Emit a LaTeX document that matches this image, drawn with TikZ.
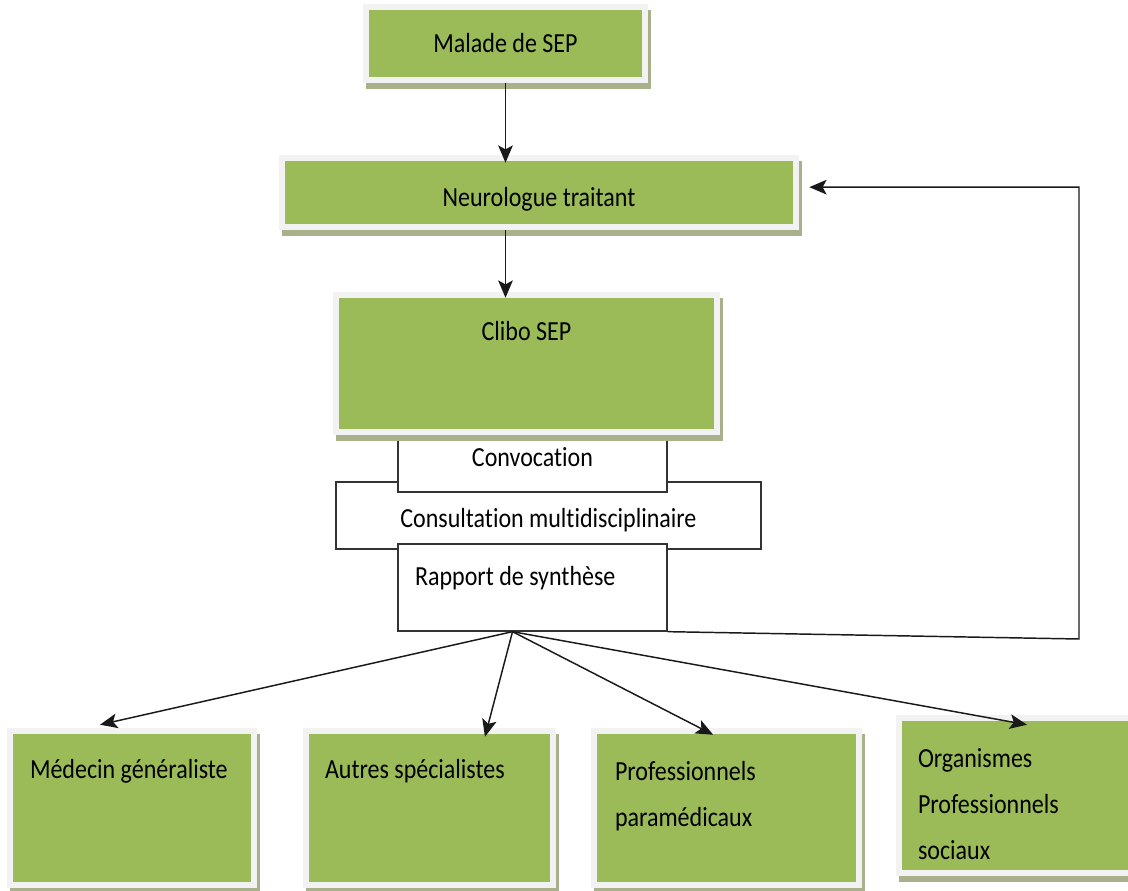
\documentclass[tikz,border=0pt]{standalone}
\usepackage{fontspec}
\setmainfont{Carlito}[FakeStretch=0.87, Ligatures=NoCommon]
\usetikzlibrary{arrows.meta,shadows}
\definecolor{boxgreen}{RGB}{155,187,89}
\definecolor{boxrim}{RGB}{242,242,242}
\definecolor{boxshade}{RGB}{168,176,140}
\tikzstyle{greenbox} = [rectangle, fill=boxrim, inner sep=0pt,
drop shadow={shadow xshift=2.5pt, shadow yshift=-4.5pt, fill=boxshade, opacity=1},
path picture={\fill[boxgreen] ([shift={(4.5pt,4.5pt)}]path picture bounding box.south west) rectangle ([shift={(-4.5pt,-4.5pt)}]path picture bounding box.north east);}]
\tikzstyle{stepbox} = [rectangle, draw=black!80, line width=1pt, fill=white, inner sep=0pt]
\tikzstyle{arrow} = [line width=1.1pt, draw=black!90, ->, >={Stealth[length=13pt,width=11pt,inset=3pt]}]

\begin{document}
\begin{tikzpicture}[x=0.75pt, y=-0.75pt, font=\fontsize{20.7pt}{34.5pt}\selectfont]
	\useasboundingbox (0,0) rectangle (1128,891);

	\node (malade) [greenbox, minimum width=213.75pt, minimum height=59.25pt, text height=36.75pt, text depth=22.5pt] at (505.5,43.5) {Malade de SEP};
	\node (neuro) [greenbox, minimum width=390pt, minimum height=56.25pt, text height=39pt, text depth=17.25pt] at (539,192.5) {Neurologue traitant};

	% etapes du Clibo
	\node (consult) [stepbox, minimum width=318.75pt, minimum height=50.25pt, text height=33.75pt, text depth=16.5pt] at (548.5,515.5) {Consultation multidisciplinaire};
	\node (convoc) [stepbox, minimum width=201.75pt, minimum height=42pt, text height=22.5pt, text depth=19.5pt] at (532.5,464) {Convocation};
	\node (rapport) [stepbox, minimum width=201.75pt, minimum height=65.25pt, inner xsep=12.75pt, text width=176.25pt, align=flush left, text height=30.75pt, text depth=34.5pt] at (532.5,587.5) {Rapport~de~synthèse};
	\node (clibo) [greenbox, minimum width=290.25pt, minimum height=107.25pt, text height=36pt, text depth=71.25pt] at (526.5,363.5) {Clibo SEP};

	% destinataires
	\node (med) [greenbox, minimum width=187.5pt, minimum height=120pt, inner xsep=17.25pt, text width=153pt, align=flush left, text height=37.5pt, text depth=82.5pt] at (132,808) {Médecin~généraliste};
	\node (autres) [greenbox, minimum width=189.75pt, minimum height=120pt, inner xsep=16.5pt, text width=156.75pt, align=flush left, text height=37.5pt, text depth=82.5pt] at (429.5,808) {Autres~spécialistes};
	\node (prof) [greenbox, minimum width=203.25pt, minimum height=120pt, inner xsep=18pt, text width=167.25pt, align=flush left, text height=39pt, text depth=81pt] at (726.5,808) {Professionnels\\paramédicaux};
	\node (org) [greenbox, minimum width=183.75pt, minimum height=120.75pt, inner xsep=16.5pt, text width=150.75pt, align=flush left, text height=39pt, text depth=81.75pt] at (1018.5,795.5) {Organismes\\Professionnels\\sociaux};

	\draw [arrow, shorten >=-6pt] (malade.south) -- (malade.south |- neuro.north);
	\draw [arrow, shorten >=-4.5pt] (neuro.south -| malade.south) -- (clibo.north -| malade.south);

	\coordinate (fork) at ([xshift=-15pt]rapport.south);
	\draw [arrow] (fork) -- ([shift={(-24pt,2.25pt)}]med.north);
	\draw [arrow] (fork) -- ([shift={(41.6pt,-6.75pt)}]autres.north);
	\draw [arrow] (fork) -- ([shift={(-10pt,-5.25pt)}]prof.north);
	\draw [arrow] (fork) -- ([shift={(6.4pt,-7.5pt)}]org.north);

	% retour vers le neurologue
	\coordinate (bend) at (1079,639);
	\coordinate (back) at ([shift={(7.5pt,4pt)}]neuro.east);
	\draw [arrow] (rapport.south east) -- (bend) -- (bend |- back) -- (back);
\end{tikzpicture}
\end{document}
